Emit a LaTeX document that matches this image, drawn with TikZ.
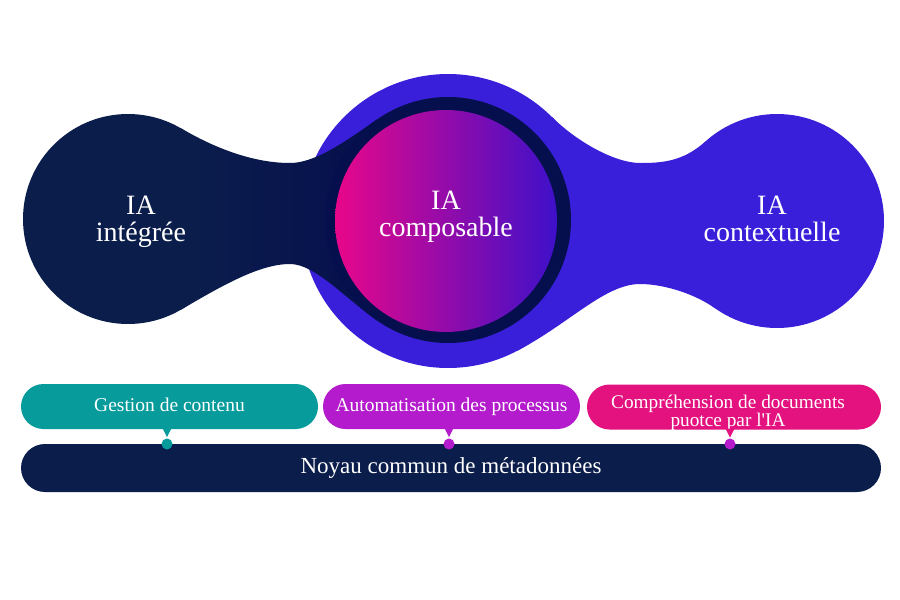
\documentclass[tikz,border=0pt]{standalone}
\usepackage{fontspec}
\setmainfont{Liberation Serif}[Ligatures=TeXOff]
\usetikzlibrary{calc}
\definecolor{navyblob}{HTML}{0B1E4B}
\definecolor{navyring}{HTML}{060F4E}
\definecolor{bluec}{HTML}{3A1FDA}
\definecolor{gpink}{HTML}{E8078A}
\definecolor{gblue}{HTML}{3E10C9}
\definecolor{tealc}{HTML}{089B9B}
\definecolor{purplec}{HTML}{B31BCC}
\definecolor{pinkc}{HTML}{E3127F}
\definecolor{navybar}{HTML}{0B1D4A}
\begin{document}
\begin{tikzpicture}[x=1pt,y=-1pt,
  biglbl/.style={text=white, align=center, inner sep=0pt, font=\fontsize{28}{27}\selectfont},
  pill/.style={rounded corners=22.5pt, minimum height=45pt, inner sep=0pt, text=white,
    font=\fontsize{19.5}{19}\selectfont, text height=13.5pt, text depth=4pt},
  barstyle/.style={rounded corners=24pt, minimum height=48pt, minimum width=860pt, inner sep=0pt,
    text=white, fill=navybar, font=\fontsize{23}{23}\selectfont, text height=16pt, text depth=4.5pt},
  dotstyle/.style={circle, minimum size=11pt, inner sep=0pt},
  smalllbl/.style={text=white, align=center, inner sep=0pt, font=\fontsize{19.3}{18.4}\selectfont}]
\useasboundingbox (0,0) rectangle (900,600);
\fill[white] (0,0) rectangle (900,600);
% blue blob
\fill[bluec] (448,221) circle[radius=147pt];
\fill[bluec] (777,221) circle[radius=107pt];
\fill[bluec] (552,117) .. controls (576.7,141.7) and (615,163) .. (640,163)
  .. controls (662,163) and (683,161.6) .. (705.4,141.5) -- (715.6,308.6)
  .. controls (691,291.4) and (660,284) .. (640,284)
  .. controls (605,284) and (570,323) .. (517,351) -- cycle;
% navy blob
\fill[navyblob] (128,219) circle[radius=105pt];
\shade[left color=navyblob, right color=navyring] (180.5,128) .. controls (223,153) and (260,163) .. (290,163)
  .. controls (315,163) and (345,142) .. (377.5,119) -- (377.5,321)
  .. controls (345,298) and (315,264) .. (290,264)
  .. controls (260,264) and (223,285) .. (180.5,310) -- cycle;
\fill[navyring] (448,220) circle[radius=123pt];
\shade[left color=gpink, right color=gblue] (446,221) circle[radius=111pt];
% labels (anchor base = baseline of the last line)
\node[biglbl, anchor=base] (l1) at (141,241) {IA\\intégrée};
\node[biglbl, anchor=base] (l2) at (446,236) {IA\\composable};
\node[biglbl, anchor=base] (l3) at (772,241.5) {IA\\contextuelle};
% bottom
\node[barstyle] (bar) at (451,468) {Noyau commun de métadonnées};
\node[pill, fill=tealc, minimum width=297pt] (b1) at (169.5,406.5) {Gestion de contenu};
\node[pill, fill=purplec, minimum width=257pt] (b2) at (451.5,406.5) {Automatisation des processus};
\node[pill, fill=pinkc, minimum width=294pt] (b3) at (734,407) {};
\node[smalllbl, anchor=base] (t3) at (728,426.7) {Compréhension de documents\\puotce par l'IA};
\node[dotstyle, fill=tealc] (d1) at (167,444) {};
\node[dotstyle, fill=purplec] (d2) at (449,444) {};
\node[dotstyle, fill=purplec] (d3) at (730,444) {};
\fill[tealc] ($(d1 |- b1.south)+(-4.5,-1)$) -- ++(9,0) -- ($(d1 |- b1.south)+(0,8)$) -- cycle;
\fill[purplec] ($(d2 |- b2.south)+(-4.5,-1)$) -- ++(9,0) -- ($(d2 |- b2.south)+(0,8)$) -- cycle;
\fill[pinkc] ($(d3 |- b3.south)+(-4.5,-1)$) -- ++(9,0) -- ($(d3 |- b3.south)+(0,8)$) -- cycle;
\end{tikzpicture}
\end{document}
